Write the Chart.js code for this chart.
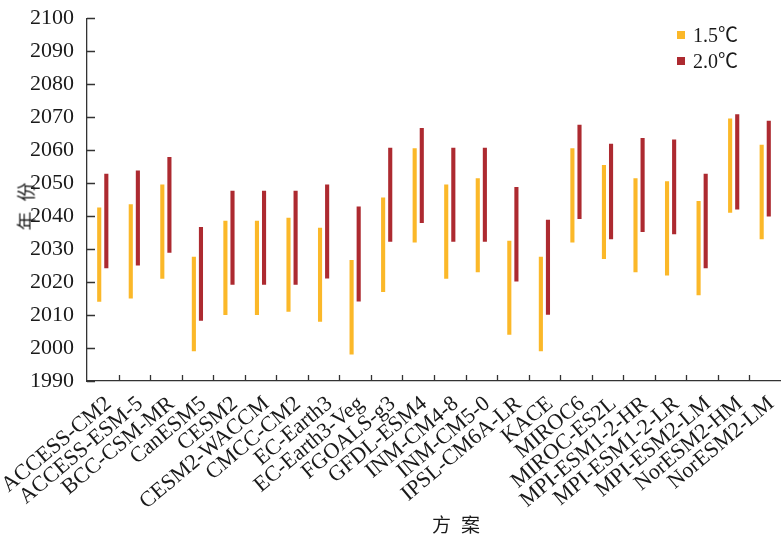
<!DOCTYPE html>
<html>
<head>
<meta charset="utf-8">
<script src="https://cdn.jsdelivr.net/npm/chart.js@4"></script>
<style>
 body{margin:0;background:#fff;}
 #wrap{position:relative;width:781px;height:538px;}
 .lbl{position:absolute;font-family:"Liberation Serif","Noto Sans CJK SC",serif;color:#1a1a1a;white-space:nowrap;}
 .sq{display:inline-block;width:8px;height:8px;margin-right:8px;vertical-align:middle;position:relative;top:-2px;}
</style>
</head>
<body>
<div id="wrap">
 <canvas id="chart" width="781" height="538"></canvas>
 <div class="lbl" style="left:677px;top:22px;font-size:20px;line-height:26px;">
  <div><span class="sq" style="background:#fbb829"></span>1.5℃</div>
  <div><span class="sq" style="background:#ad2a30"></span>2.0℃</div>
 </div>
 <div class="lbl" style="left:432px;top:510px;font-size:19px;letter-spacing:10px;font-family:'Noto Sans CJK SC',serif;">方案</div>
 <div class="lbl" style="left:-4px;top:188px;font-size:19px;letter-spacing:10px;transform:rotate(-90deg);font-family:'Noto Sans CJK SC',serif;">年份</div>
</div>
<script>
const models=["ACCESS-CM2","ACCESS-ESM-5","BCC-CSM-MR","CanESM5","CESM2","CESM2-WACCM","CMCC-CM2","EC-Earth3","EC-Earth3-Veg","FGOALS-g3","GFDL-ESM4","INM-CM4-8","INM-CM5-0","IPSL-CM6A-LR","KACE","MIROC6","MIROC-ES2L","MPI-ESM1-2-HR","MPI-ESM1-2-LR","MPI-ESM2-LM","NorESM2-HM","NorESM2-LM"];

// 1.5℃ start / end years
const low15 =[2014,2015,2021,1999,2010,2010,2011,2008,1998,2017,2032,2021,2023,2004,1999,2032,2027,2023,2022,2016,2041,2033];
const high15=[2042.6,2043.6,2049.6,2027.7,2038.6,2038.6,2039.5,2036.5,2026.7,2045.6,2060.6,2049.6,2051.5,2032.5,2027.7,2060.6,2055.5,2051.5,2050.6,2044.6,2069.6,2061.6];
// 2.0℃ start / end years
const low20 =[2024.2,2025,2028.9,2008.3,2019.2,2019.2,2019.2,2021.1,2014.1,2032.2,2037.9,2032.2,2032.2,2020.2,2010.1,2039.1,2033,2035.2,2034.5,2024.2,2042,2039.9];
const high20=[2052.8,2053.8,2057.9,2036.7,2047.7,2047.7,2047.7,2049.6,2042.9,2060.7,2066.7,2060.7,2060.7,2048.8,2038.9,2067.7,2061.9,2063.7,2063.2,2052.8,2070.9,2068.9];

const yTicks=[1990,2000,2010,2020,2030,2040,2050,2060,2070,2080,2090,2100];

const tickFont={family:"Liberation Serif",size:22};

const innerTicks={
 id:"innerTicks",
 afterDraw(chart){
  const {ctx,scales:{x,y},chartArea}=chart;
  ctx.save();
  ctx.strokeStyle="#333";
  ctx.lineWidth=1.3;
  ctx.beginPath();
  yTicks.forEach(v=>{
   const py=Math.round(y.getPixelForValue(v))+0.5;
   ctx.moveTo(chartArea.left,py);ctx.lineTo(chartArea.left+8,py);
  });
  const half=(x.getPixelForValue(1)-x.getPixelForValue(0))/2;
  for(let i=0;i<models.length-1;i++){
   const px=Math.round(x.getPixelForValue(i)+half)+0.5;
   ctx.moveTo(px,chartArea.bottom);ctx.lineTo(px,chartArea.bottom-6);
  }
  ctx.stroke();
  ctx.restore();
 }
};

new Chart(document.getElementById("chart"),{
 type:"bar",
 data:{
  labels:models,
  datasets:[
   {label:"1.5℃",data:low15.map((v,i)=>[v,high15[i]]),backgroundColor:"#fbb829",categoryPercentage:0.45,barPercentage:0.58},
   {label:"2.0℃",data:low20.map((v,i)=>[v,high20[i]]),backgroundColor:"#ad2a30",categoryPercentage:0.45,barPercentage:0.58}
  ]
 },
 options:{
  responsive:false,
  animation:false,
  layout:{padding:{top:14,right:0,left:0,bottom:0}},
  plugins:{legend:{display:false},tooltip:{enabled:false}},
  scales:{
   x:{
    grid:{display:false,offset:true},
    border:{display:true,color:"#333",width:1.3},
    ticks:{font:tickFont,color:"#1a1a1a",minRotation:40,maxRotation:40,autoSkip:false,padding:2,labelOffset:6},
    afterFit(s){s.height=157;s.paddingLeft=0;s.paddingRight=0;}
   },
   y:{
    min:1990,max:2100,
    grid:{display:false},
    border:{display:true,color:"#333",width:1.3},
    ticks:{font:tickFont,color:"#1a1a1a",stepSize:10,padding:5,callback:v=>String(v)},
    afterFit(s){s.width=87;}
   }
  }
 },
 plugins:[innerTicks]
});
</script>
</body>
</html>
